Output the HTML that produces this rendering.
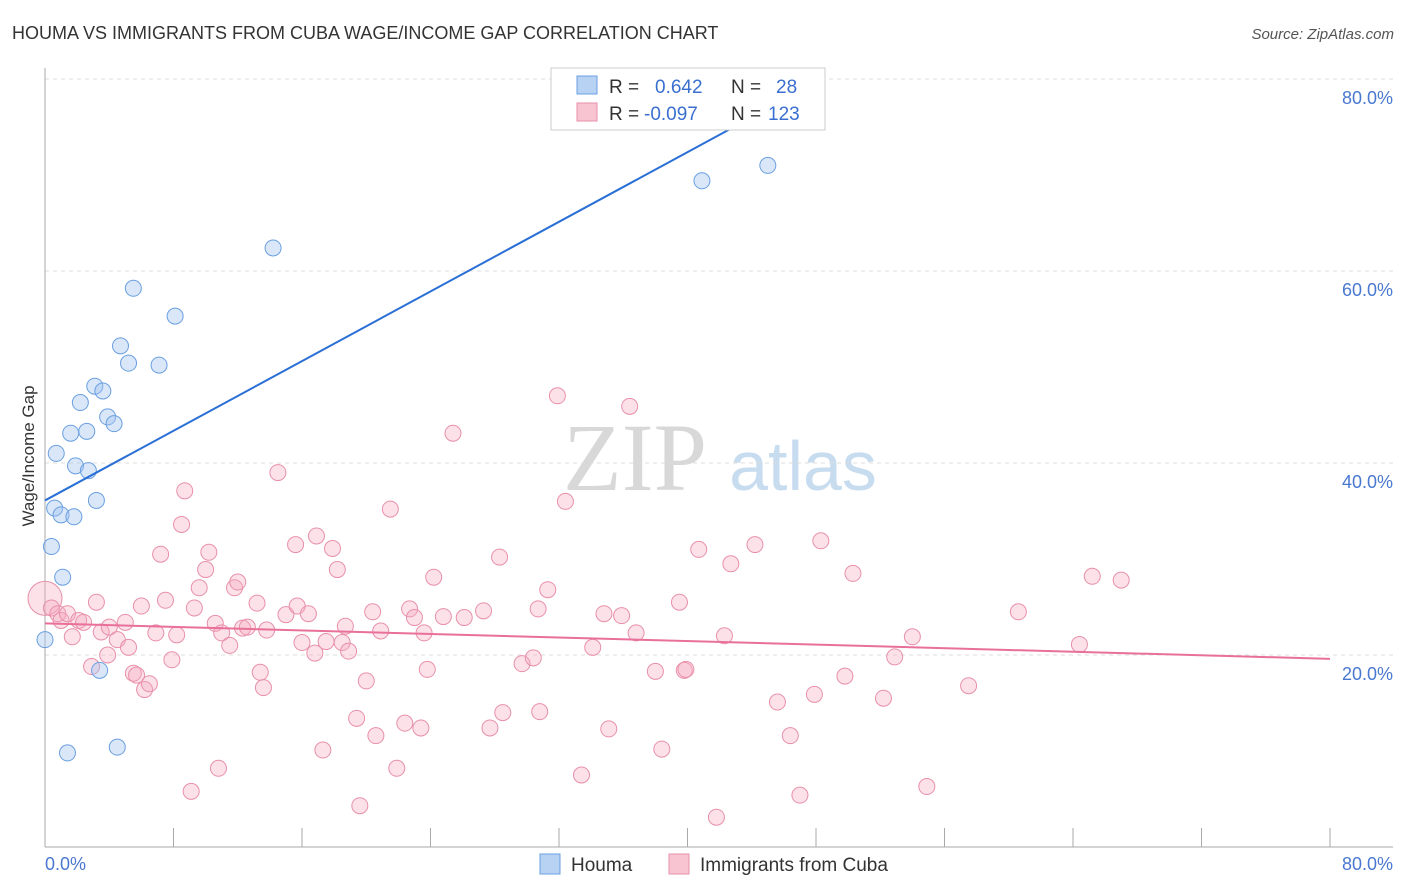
<!DOCTYPE html>
<html><head><meta charset="utf-8"><style>
body{margin:0;background:#fff;font-family:"Liberation Sans",sans-serif;}
svg{display:block}
</style></head><body>
<svg id="chart" width="1406" height="892" viewBox="0 0 1406 892">
<text x="12" y="39" font-size="18" fill="#333">HOUMA VS IMMIGRANTS FROM CUBA WAGE/INCOME GAP CORRELATION CHART</text>
<text x="1394" y="39" font-size="15" fill="#555" text-anchor="end" font-style="italic">Source: ZipAtlas.com</text>
<g>
<text x="635" y="490" font-size="96" fill="#d8d8d8" font-family="Liberation Serif, serif" text-anchor="middle">ZIP</text>
<text x="803" y="490" font-size="70" fill="#c8dcf0" text-anchor="middle">atlas</text>
</g>
<g id="grid"></g>
<g id="axes"></g>
<g id="points"></g>
<g id="trends"></g>
<text transform="translate(34,456) rotate(-90)" font-size="17" fill="#333" text-anchor="middle">Wage/Income Gap</text>
<g>
<rect x="551" y="68" width="274" height="62" fill="#fff" stroke="#ccc"/>
<rect x="577" y="76" width="20" height="18" fill="#b8d2f4" stroke="#6a9fe0"/>
<text x="609" y="93" font-size="19" fill="#333">R =</text>
<text x="655" y="93" font-size="19" fill="#3a6fd0">0.642</text>
<text x="731" y="93" font-size="19" fill="#333">N =</text>
<text x="776" y="93" font-size="19" fill="#3a6fd0">28</text>
<rect x="577" y="103" width="20" height="18" fill="#f8c4d2" stroke="#e890aa"/>
<text x="609" y="120" font-size="19" fill="#333">R =</text>
<text x="644" y="120" font-size="19" fill="#3a6fd0">-0.097</text>
<text x="731" y="120" font-size="19" fill="#333">N =</text>
<text x="768" y="120" font-size="19" fill="#3a6fd0">123</text>
</g>
<g>
<rect x="540" y="854" width="20" height="20" fill="#b8d2f4" stroke="#6a9fe0"/>
<text x="571" y="871" font-size="19" fill="#333">Houma</text>
<rect x="669" y="854" width="20" height="20" fill="#f8c4d2" stroke="#e890aa"/>
<text x="700" y="871" font-size="19" fill="#333">Immigrants from Cuba</text>
</g>
</svg>
<script>
const blueX=[0,0.4,0.6,0.7,1.0,1.1,1.4,1.6,1.8,1.9,2.2,2.6,2.7,3.1,3.2,3.4,3.6,3.9,4.3,4.5,4.7,5.2,5.5,7.1,8.1,14.2,40.9,45.0];
const blueY=[21.6,31.3,35.3,41.0,34.6,28.1,9.8,43.1,34.4,39.7,46.3,43.3,39.2,48.0,36.1,18.4,47.5,44.8,44.1,10.4,52.2,50.4,58.2,50.2,55.3,62.4,69.4,71.0];
const pinkX=[0,0.4,0.8,1.0,1.4,1.7,2.1,2.4,2.9,3.2,3.5,3.9,4.0,4.5,5.0,5.2,5.5,5.7,6.0,6.2,6.5,6.9,7.2,7.5,7.9,8.2,8.5,8.7,9.1,9.3,9.6,10.0,10.2,10.6,10.8,11.0,11.5,11.8,12.0,12.3,12.6,13.2,13.4,13.6,13.8,14.5,15.0,15.6,15.7,16.0,16.4,16.8,16.9,17.3,17.5,17.9,18.2,18.5,18.7,18.9,19.4,19.6,20.0,20.4,20.6,20.9,21.5,21.9,22.4,22.7,23.0,23.4,23.6,23.8,24.2,24.8,25.4,26.1,27.3,27.7,28.3,28.5,29.7,30.4,30.7,30.8,31.3,31.9,32.4,33.4,34.1,34.8,35.1,35.9,36.4,36.8,38.0,38.4,39.5,39.8,39.9,40.7,41.8,42.3,42.7,44.2,45.6,46.4,47.0,47.9,48.3,49.8,50.3,52.2,52.9,54.0,54.9,57.5,60.6,64.4,65.2,67.0];
const pinkY=[25.9,24.9,24.3,23.6,24.3,21.9,23.6,23.4,18.8,25.5,22.4,20.0,22.9,21.6,23.4,20.8,18.1,17.9,25.1,16.4,17.0,22.3,30.5,25.7,19.5,22.1,33.6,37.1,5.8,24.9,27.0,28.9,30.7,23.3,8.2,22.3,21.0,27.0,27.6,22.8,22.9,25.4,18.2,16.6,22.6,39.0,24.2,31.5,25.1,21.3,24.3,20.2,32.4,10.1,21.4,31.1,28.9,21.3,23.0,20.4,13.4,4.3,17.3,24.5,11.6,22.5,35.2,8.2,12.9,24.8,23.9,12.4,22.3,18.5,28.1,24.0,43.1,23.9,24.6,12.4,30.2,14.0,19.1,19.7,24.8,14.1,26.8,47.0,36.0,7.5,20.8,24.3,12.3,24.1,45.9,22.3,18.3,10.2,25.5,18.4,18.5,31.0,3.1,22.0,29.5,31.5,15.1,11.6,5.4,15.9,31.9,17.8,28.5,15.5,19.8,21.9,6.3,16.8,24.5,21.1,28.2,27.8];
const blueTrend=[0,36.1,48.4,80];
const pinkTrend=[0,23.3,80,19.6];
const yTicks=[20,40,60,80];
const yTickLabels=["20.0%","40.0%","60.0%","80.0%"];
const xTicks=[0,8,16,24,32,40,48,56,64,72,80];

const NS="http://www.w3.org/2000/svg";
const sx=v=>45+v*(1285/80);
const sy=v=>847-v*9.6;
function mk(parent,tag,attrs){const e=document.createElementNS(NS,tag);for(const k in attrs)e.setAttribute(k,attrs[k]);document.getElementById(parent).appendChild(e);return e;}

yTicks.forEach((t,i)=>{
 const l=mk('grid','line',{x1:45,x2:1393,y1:sy(t),y2:sy(t),stroke:'#ddd','stroke-dasharray':'4,4'});
 
 
 const tx=mk('grid','text',{x:1393,y:sy(t)+25,'font-size':18,fill:'#4a78d0','text-anchor':'end'});
 tx.textContent=yTickLabels[i];
 
 
});
const ya=mk('axes','line',{x1:45,x2:45,y1:68,y2:847,stroke:'#aaa'});


const xa=mk('axes','line',{x1:45,x2:1393,y1:847,y2:847,stroke:'#aaa'});


xTicks.forEach(t=>{
 const l=mk('axes','line',{x1:sx(t),x2:sx(t),y1:828,y2:847,stroke:'#aaa'});
 
 
});
const xl0=mk('axes','text',{x:45,y:870,'font-size':18,fill:'#4a78d0'});xl0.textContent=xTicks[0].toFixed(1)+'%';


const xl1=mk('axes','text',{x:1393,y:870,'font-size':18,fill:'#4a78d0','text-anchor':'end'});xl1.textContent=xTicks[xTicks.length-1].toFixed(1)+'%';



pinkX.forEach((x,i)=>{
 const c=mk('points','circle',{cx:sx(x),cy:sy(pinkY[i]),r:i===0?17:8,fill:'rgba(245,170,192,0.35)',stroke:'#e890aa','stroke-width':1});
 
 
});
blueX.forEach((x,i)=>{
 const c=mk('points','circle',{cx:sx(x),cy:sy(blueY[i]),r:8,fill:'rgba(160,195,240,0.4)',stroke:'#6a9fe0','stroke-width':1});
 
 
});
const bt=mk('trends','line',{x1:sx(blueTrend[0]),y1:sy(blueTrend[1]),x2:sx(blueTrend[2]),y2:sy(blueTrend[3]),stroke:'#2a6fd6','stroke-width':2});


const pt=mk('trends','line',{x1:sx(pinkTrend[0]),y1:sy(pinkTrend[1]),x2:sx(pinkTrend[2]),y2:sy(pinkTrend[3]),stroke:'#e8709a','stroke-width':2});


</script>
</body></html>
